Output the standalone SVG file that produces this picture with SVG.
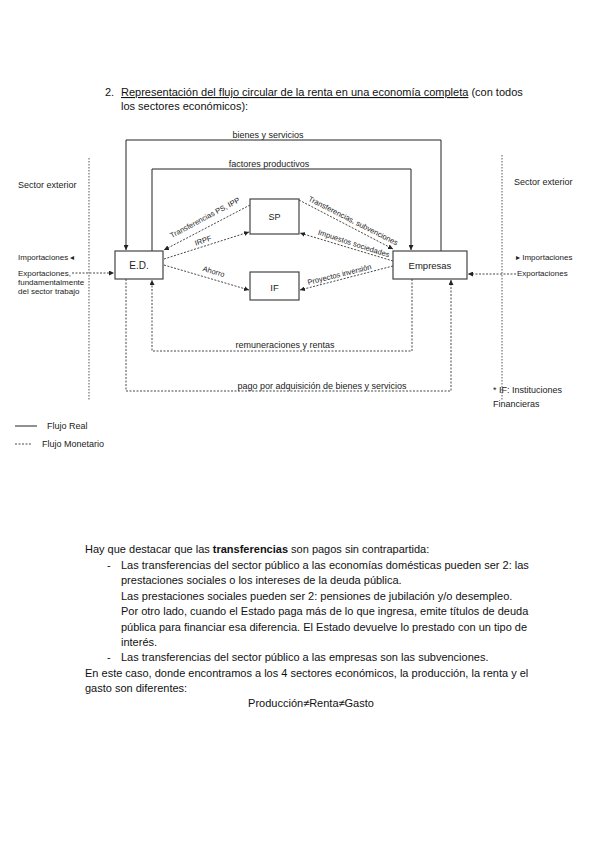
<svg xmlns="http://www.w3.org/2000/svg" width="600" height="848" viewBox="0 0 600 848">
<defs>
<marker id="ah" markerWidth="5" markerHeight="5" refX="5" refY="2.5" orient="auto" markerUnits="userSpaceOnUse"><path d="M0,0 L5,2.5 L0,5 z" fill="#222"/></marker>
<style>
.t{font-family:"Liberation Sans",Arial,sans-serif;fill:#222}
.ttl{font-size:11px;fill:#111}
.d{font-size:9px}
.s{font-size:7.5px}
.x{font-size:8px}
.lg{font-size:9px}
.b{font-size:11px;fill:#111}
.solid{stroke:#222;stroke-width:1;fill:none}
.dash{stroke:#333;stroke-width:0.9;fill:none;stroke-dasharray:2,1.5}
.box{fill:#fff;stroke:#444;stroke-width:1.2}
.sep{stroke:#555;stroke-width:1;fill:none;stroke-dasharray:1.5,1.5}
</style>
</defs>
<rect width="600" height="848" fill="#fff"/>

<g id="title">
<text x="105" y="96" class="t ttl">2.</text>
<text x="121" y="96" class="t ttl"><tspan text-decoration="underline">Representación del flujo circular de la renta en una economía completa</tspan> (con todos</text>
<text x="121" y="110" class="t ttl">los sectores económicos):</text>
</g>

<g id="connectors">
<path class="solid" d="M441,251 V140 H126 V250" marker-end="url(#ah)"/>
<path class="solid" d="M152,251 V169 H411 V250" marker-end="url(#ah)"/>
<path class="dash" d="M412,279 V351 H152 V280" marker-end="url(#ah)"/>
<path class="dash" d="M126,279 V391 H451 V280" marker-end="url(#ah)"/>
<path class="dash" d="M250,205 L164,250" marker-end="url(#ah)"/>
<path class="dash" d="M164,259 L249,232" marker-end="url(#ah)"/>
<path class="dash" d="M164,265 L249,290" marker-end="url(#ah)"/>
<path class="dash" d="M299,200 L393,249" marker-end="url(#ah)"/>
<path class="dash" d="M393,261 L300,233" marker-end="url(#ah)"/>
<path class="dash" d="M393,266 L300,290" marker-end="url(#ah)"/>
<path class="dash" d="M72,273 H114" marker-end="url(#ah)"/>
<path class="dash" d="M516,274 H468" marker-end="url(#ah)"/>
<path class="sep" d="M89,158 V400"/>
<path class="sep" d="M502,155 V400"/>
</g>

<g id="connector-labels">
<text x="268" y="138" class="t d" text-anchor="middle">bienes y servicios</text>
<text x="269" y="167" class="t d" text-anchor="middle">factores productivos</text>
<text x="285" y="348" class="t d" text-anchor="middle">remuneraciones y rentas</text>
<text x="322" y="389" class="t d" text-anchor="middle">pago por adquisición de bienes y servicios</text>
<text class="t s" text-anchor="middle" transform="translate(206,220) rotate(-28)">Transferencias PS, IPP</text>
<text class="t s" text-anchor="middle" transform="translate(204,243) rotate(-18)">IRPF</text>
<text class="t s" text-anchor="middle" transform="translate(213,274) rotate(17)">Ahorro</text>
<text class="t s" text-anchor="middle" transform="translate(352,223) rotate(27)">Transferencias, subvenciones</text>
<text class="t s" text-anchor="middle" transform="translate(353,246) rotate(18)">Impuestos sociedades</text>
<text class="t s" text-anchor="middle" transform="translate(340,277) rotate(-14)">Proyectos inversión</text>
</g>

<g id="ED">
<rect class="box" x="115" y="251" width="48" height="28"/>
<text x="139" y="269" class="t" font-size="10" text-anchor="middle">E.D.</text>
</g>
<g id="Empresas">
<rect class="box" x="393" y="251" width="74" height="28"/>
<text x="430" y="269" class="t" font-size="9.5" text-anchor="middle">Empresas</text>
</g>
<g id="SP">
<rect class="box" x="250" y="199" width="49" height="35"/>
<text x="274.5" y="220" class="t" font-size="9" text-anchor="middle">SP</text>
</g>
<g id="IF">
<rect class="box" x="250" y="272" width="49" height="28"/>
<text x="274.5" y="291" class="t" font-size="9.5" text-anchor="middle">IF</text>
</g>

<g id="exterior">
<text x="18" y="188" class="t d">Sector exterior</text>
<text x="514" y="185" class="t d">Sector exterior</text>
<text x="18" y="260" class="t x">Importaciones ◂</text>
<text x="18" y="276" class="t x">Exportaciones,</text>
<text x="18" y="285" class="t x">fundamentalmente</text>
<text x="18" y="294" class="t x">del sector trabajo</text>
<text x="516" y="260" class="t x">▸ Importaciones</text>
<text x="517" y="276" class="t x">Exportaciones</text>
<text x="493" y="393" class="t d">* IF: Instituciones</text>
<text x="493" y="407" class="t d">Financieras</text>
</g>

<g id="legend">
<path class="solid" d="M15,426 H37"/>
<text x="47" y="429" class="t lg">Flujo Real</text>
<path class="dash" d="M15,444 H31"/>
<text x="42" y="447" class="t lg">Flujo Monetario</text>
</g>

<g id="body">
<text x="85" y="553" class="t b">Hay que destacar que las <tspan font-weight="bold">transferencias</tspan> son pagos sin contrapartida:</text>
<text x="107" y="569" class="t b">-</text>
<text x="121" y="569" class="t b">Las transferencias del sector público a las economías domésticas pueden ser 2: las</text>
<text x="121" y="584" class="t b">prestaciones sociales o los intereses de la deuda pública.</text>
<text x="121" y="600" class="t b">Las prestaciones sociales pueden ser 2: pensiones de jubilación y/o desempleo.</text>
<text x="121" y="615" class="t b">Por otro lado, cuando el Estado paga más de lo que ingresa, emite títulos de deuda</text>
<text x="121" y="631" class="t b">pública para financiar esa diferencia. El Estado devuelve lo prestado con un tipo de</text>
<text x="121" y="646" class="t b">interés.</text>
<text x="107" y="661" class="t b">-</text>
<text x="121" y="661" class="t b">Las transferencias del sector público a las empresas son las subvenciones.</text>
<text x="85" y="677" class="t b">En este caso, donde encontramos a los 4 sectores económicos, la producción, la renta y el</text>
<text x="85" y="692" class="t b">gasto son diferentes:</text>
<text x="311" y="707" class="t b" text-anchor="middle">Producción≠Renta≠Gasto</text>
</g>
</svg>
